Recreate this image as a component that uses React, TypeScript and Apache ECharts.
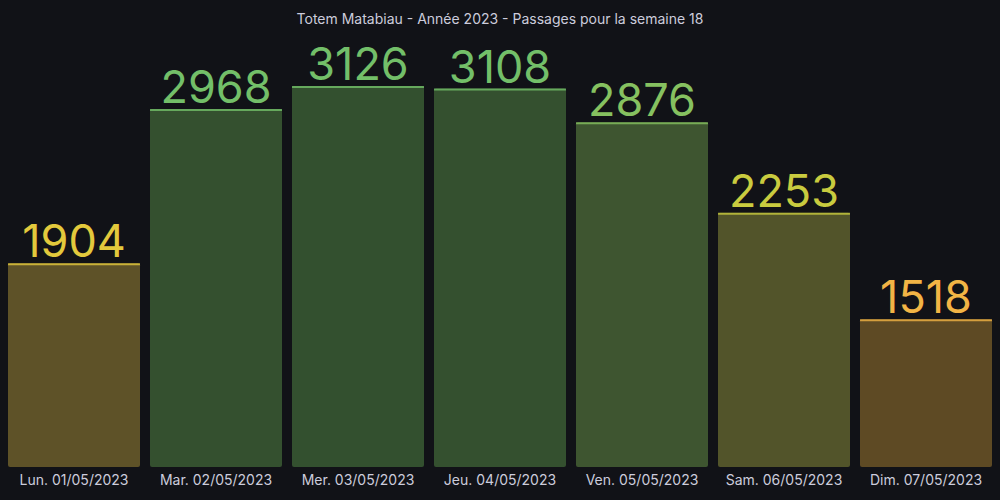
import { useEffect, useRef } from 'react'
import * as echarts from 'echarts'

// Données
const days = [
  'Lun. 01/05/2023',
  'Mar. 02/05/2023',
  'Mer. 03/05/2023',
  'Jeu. 04/05/2023',
  'Ven. 05/05/2023',
  'Sam. 06/05/2023',
  'Dim. 07/05/2023'
]
const passages = [1904, 2968, 3126, 3108, 2876, 2253, 1518]

// Couleurs (texte / bordure haute, remplissage)
const lineColors = ['#e3c93c', '#73bf69', '#73bf69', '#73bf69', '#86c160', '#c9cb3f', '#f2b445']
const fillColors = ['#5e5228', '#34502f', '#33502f', '#34502f', '#3e5530', '#52542a', '#5e4a24']

const App: React.FC = () => {
  const chartRef = useRef<HTMLDivElement | null>(null)

  useEffect(() => {
    document.body.style.margin = '0'
    if (chartRef.current === null) return
    const chart = echarts.init(chartRef.current, null, { renderer: 'svg' })
    chart.setOption({
      animation: false,
      backgroundColor: '#111217',
      title: {
        text: 'Totem Matabiau - Année 2023 - Passages pour la semaine 18',
        left: 'center',
        top: 6,
        textStyle: { color: '#ccccdc', fontSize: 14, fontWeight: 'normal', fontFamily: 'Inter' }
      },
      grid: { left: 3, right: 3, top: 86, bottom: 33 },
      xAxis: {
        type: 'category',
        data: days,
        axisLine: { show: false },
        axisTick: { show: false },
        axisLabel: { color: '#ccccdc', fontSize: 14, fontFamily: 'Inter', margin: 5, interval: 0 }
      },
      yAxis: {
        type: 'value',
        min: 500,
        max: 3126,
        show: false,
        splitLine: { show: false }
      },
      series: [
        {
          type: 'bar',
          barWidth: 132,
          data: passages.map((v, i) => ({
            value: v,
            itemStyle: { color: fillColors[i], borderRadius: 2 },
            label: { color: lineColors[i] }
          })),
          label: {
            show: true,
            position: 'top',
            distance: 0,
            fontSize: 45,
            fontFamily: 'Inter',
            fontWeight: 'normal'
          }
        },
        {
          type: 'scatter',
          symbol: 'rect',
          symbolSize: [132, 2],
          symbolOffset: [0, 1],
          z: 3,
          data: passages.map((v, i) => ({
            value: v,
            itemStyle: { color: lineColors[i] }
          }))
        }
      ]
    })
    return () => {
      chart.dispose()
    }
  }, [])

  return <div ref={chartRef} style={{ width: 1000, height: 500 }}></div>
}

export default App
